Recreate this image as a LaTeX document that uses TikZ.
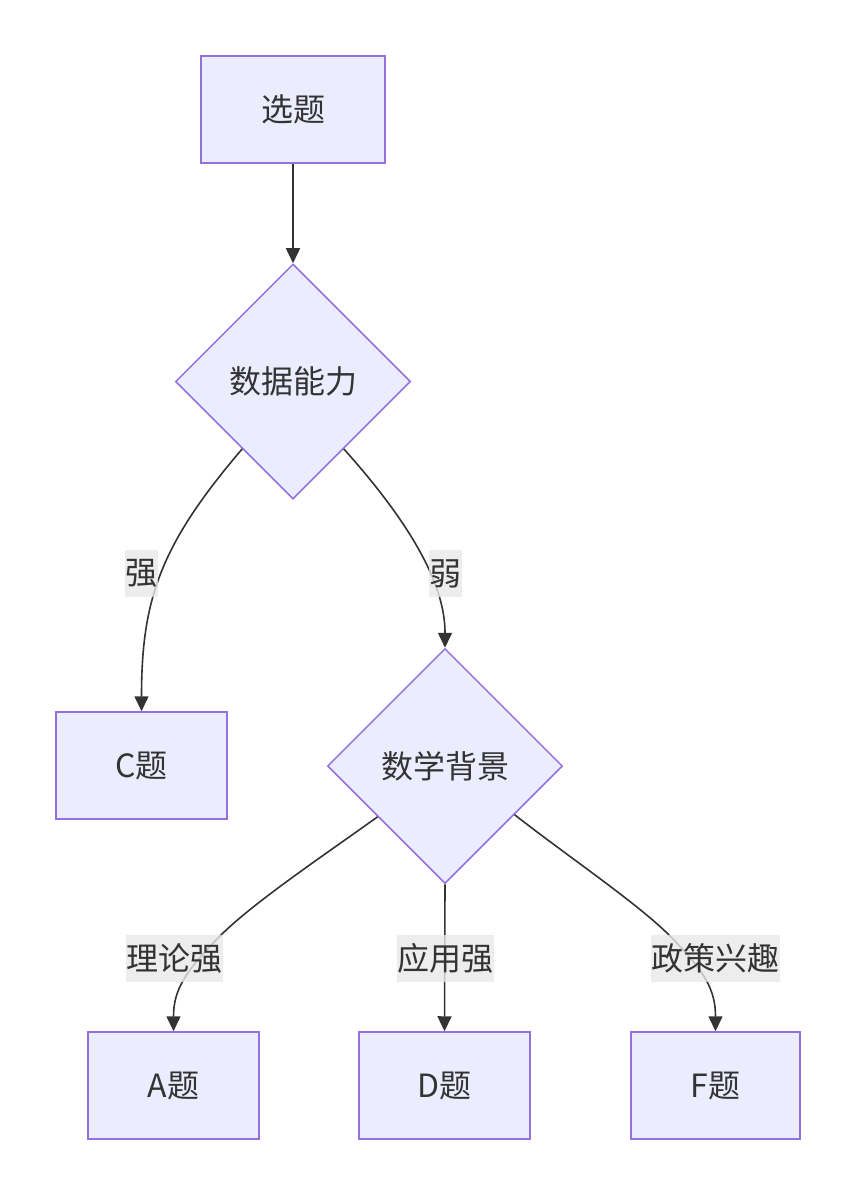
\documentclass[tikz,border=0pt]{standalone}
\usepackage{fontspec}
\setmainfont{Noto Sans CJK SC}
\usetikzlibrary{shapes.geometric,arrows.meta}
\definecolor{nodefill}{HTML}{ECECFF}
\definecolor{nodedraw}{HTML}{9370DB}
\definecolor{edgecol}{HTML}{333333}
\definecolor{lblbg}{HTML}{E8E8E8}
\begin{document}
\begin{tikzpicture}[x=1pt,y=-1pt,
  txt/.style={text=edgecol,font=\fontsize{32}{38}\selectfont},
  box/.style={txt,rectangle,draw=nodedraw,fill=nodefill,line width=1.5pt,minimum width=#1,minimum height=107,inner sep=0pt},
  dia/.style={txt,diamond,aspect=1,draw=nodedraw,fill=nodefill,line width=1.5pt,minimum size=235,inner sep=0pt},
  conn/.style={draw=edgecol,line width=1.6pt,-{Triangle[length=15pt,width=14pt]}},
  lbl/.style={txt,fill=lblbg,fill opacity=0.8,text opacity=1,inner xsep=0.5pt,inner ysep=0pt,minimum height=47}]
\useasboundingbox (0,0) rectangle (855,1196);
\node[box=184] (xt) at (293,109.5) {选题};
\node[dia] (sj) at (293,381.5) {数据能力};
\node[box=171] (c) at (141.5,765.5) {C题};
\node[dia] (sx) at (445,766) {数学背景};
\node[box=171] (a) at (173.5,1085.5) {A题};
\node[box=171] (d) at (444.5,1085.5) {D题};
\node[box=169] (f) at (715.5,1085.5) {F题};

\draw[conn] (xt) -- (sj);
\draw[conn] (sj.-127) .. controls (160,545) and (141.5,600) .. (c.north);
\draw[conn] (sj.-53) .. controls (430,545) and (445,600) .. (sx.north);
\draw[conn] (sx.-143.7) .. controls (320,858) and (250,905) .. (218,938) .. controls (185,972) and (173.5,990) .. (a.north);
\draw[conn] (sx.south) -- (d.north);
\draw[conn] (sx.-35.5) .. controls (570,858) and (640,905) .. (672,938) .. controls (705,972) and (715.5,990) .. (f.north);

\node[lbl] (l1) at (141.5,573.5) {强};
\node[lbl] (l2) at (445,573.5) {弱};
\node[lbl] (l3) at (174,958) {理论强};
\node[lbl] (l4) at (445,958) {应用强};
\node[lbl] (l5) at (715,958) {政策兴趣};
\end{tikzpicture}
\end{document}
